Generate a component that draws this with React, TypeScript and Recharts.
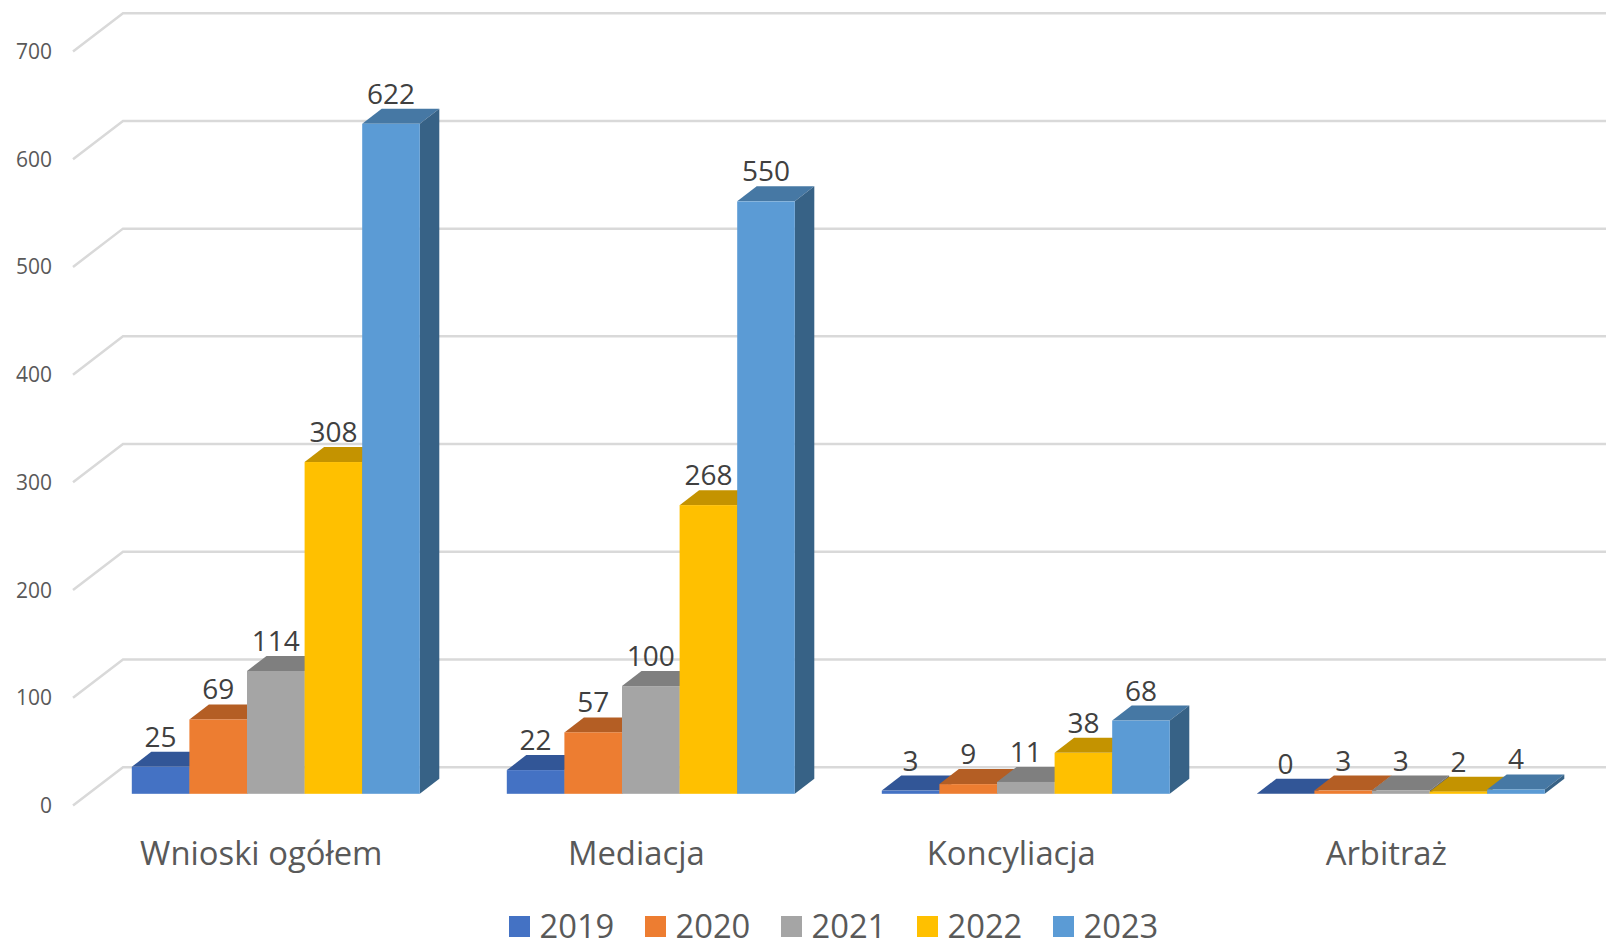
import { BarChart, Bar, XAxis, YAxis, CartesianGrid, Legend, LabelList } from 'recharts';

const categories = ['Wnioski ogółem', 'Mediacja', 'Koncyliacja', 'Arbitraż'];
const years = ['2019', '2020', '2021', '2022', '2023'];
const values2019 = [25, 22, 3, 0];
const values2020 = [69, 57, 9, 3];
const values2021 = [114, 100, 11, 3];
const values2022 = [308, 268, 38, 2];
const values2023 = [622, 550, 68, 4];
const yTicks = [0, 100, 200, 300, 400, 500, 600, 700];

const seriesValues = [values2019, values2020, values2021, values2022, values2023];
const frontColors = ['#4472C4', '#ED7D31', '#A5A5A5', '#FFC000', '#5B9BD5'];
const topColors = ['#325697', '#B45E24', '#7F7F7F', '#C49300', '#4678A4'];
const sideColors = ['#2A4A80', '#96501F', '#6B6B6B', '#A67C00', '#376286'];

const data = categories.map((name, i) => {
  const row: any = { name };
  years.forEach((y, s) => { row[y] = seriesValues[s][i]; });
  return row;
});

const FONT = '"Open Sans", sans-serif';
// oblique depth of the 3D box
const DX = 19.5;
const DY = 15;

function Box3D({ x, y, width, height, front, top, side }: any) {
  return (
    <g>
      <polygon
        points={`${x},${y} ${x + DX},${y - DY} ${x + width + DX},${y - DY} ${x + width},${y}`}
        fill={top}
      />
      <polygon
        points={`${x + width},${y} ${x + width + DX},${y - DY} ${x + width + DX},${y + height - DY} ${x + width},${y + height}`}
        fill={side}
      />
      <rect x={x} y={y} width={width} height={height} fill={front} />
    </g>
  );
}

// gridline: short slanted piece on the left wall, then the back wall line
function GridLine({ y1 }: any) {
  return (
    <g fill="none" stroke="#D9D9D9" strokeWidth={2.5}>
      <polyline points={`73,${y1 + 11.7} 123,${y1 - 26.6} 1606,${y1 - 26.6}`} />
    </g>
  );
}

function YTick({ y, payload }: any) {
  return (
    <text x={52} y={y + 11.7} dy={7.5} textAnchor="end" fontFamily={FONT} fontSize={21} fill="#595959">
      {payload.value}
    </text>
  );
}

function XTick({ x, payload }: any) {
  return (
    <text x={x - 14} y={865} textAnchor="middle" fontFamily={FONT} fontSize={32.8} fill="#595959">
      {payload.value}
    </text>
  );
}

function BarLabel({ x, y, width, value }: any) {
  return (
    <text x={x + width / 2} y={y - DY - 5} textAnchor="middle" fontFamily={FONT} fontSize={28} fill="#404040">
      {value}
    </text>
  );
}

function LegendRow({ payload }: any) {
  return (
    <div style={{ display: 'flex', paddingLeft: 509 }}>
      {payload.map((entry: any) => (
        <div key={entry.value} style={{ width: 136, display: 'flex', alignItems: 'center' }}>
          <span style={{ width: 21, height: 21, background: entry.color, marginRight: 9.5 }} />
          <span style={{ fontFamily: FONT, fontSize: 32.7, lineHeight: '28px', color: '#595959' }}>{entry.value}</span>
        </div>
      ))}
    </div>
  );
}

export default function App() {
  return (
    <div style={{ position: 'absolute', left: 0, top: 0, width: 1606, height: 940 }}>
      <BarChart
        width={1606}
        height={940}
        data={data}
        margin={{ top: 39.8, right: 18.2, bottom: 86.2, left: 0 }}
        barSize={57.6}
        barGap={0}
      >
        <CartesianGrid vertical={false} horizontal={(props: any) => <GridLine key={props.index} y1={props.y1} />} />
        <XAxis dataKey="name" height={60} axisLine={false} tickLine={false} tick={<XTick />} interval={0} />
        <YAxis
          width={87.8}
          domain={[0, 700]}
          ticks={yTicks}
          axisLine={false}
          tickLine={false}
          tick={<YTick />}
        />
        <Legend
          verticalAlign="middle"
          align="center"
          layout="horizontal"
          wrapperStyle={{ top: 912, left: 0, width: 1606, height: 28 }}
          content={<LegendRow />}
        />
        {years.map((y, s) => (
          <Bar
            key={y}
            dataKey={y}
            fill={frontColors[s]}
            isAnimationActive={false}
            shape={(p: any) => (
              <Box3D x={p.x} y={p.y} width={p.width} height={p.height} front={frontColors[s]} top={topColors[s]} side={sideColors[s]} />
            )}
          >
            <LabelList dataKey={y} content={<BarLabel />} />
          </Bar>
        ))}
      </BarChart>
    </div>
  );
}
